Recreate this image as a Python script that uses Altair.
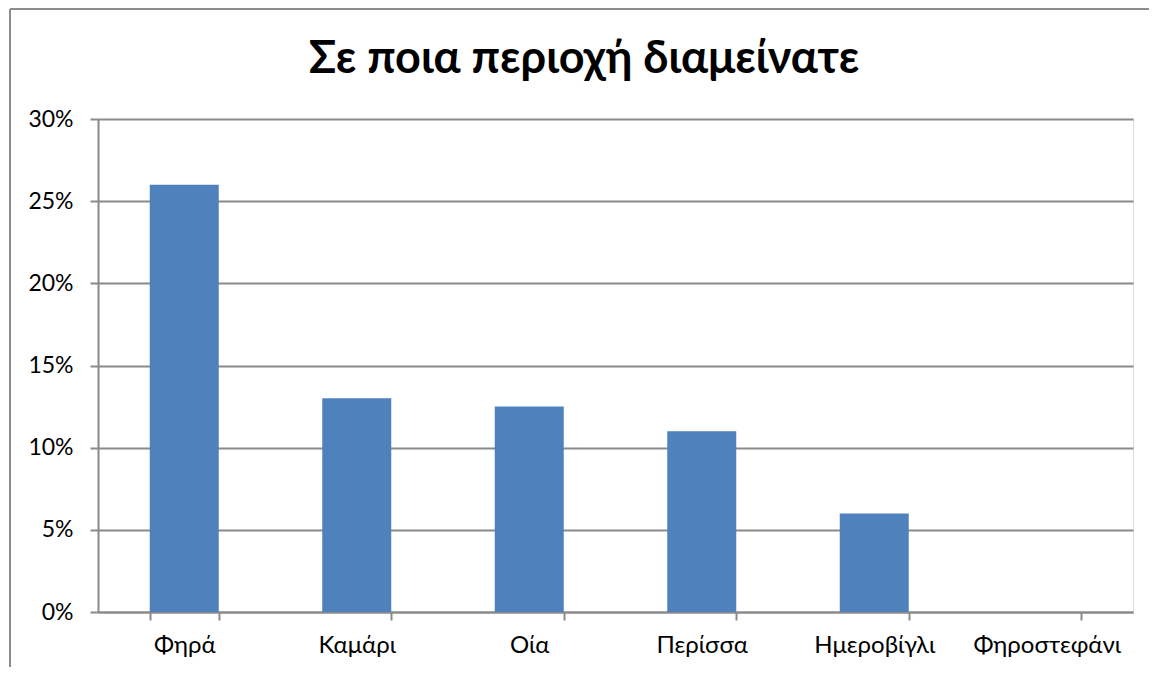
import altair as alt
import pandas as pd

title_text = "Σε ποια περιοχή διαμείνατε"
categories = ["Φηρά", "Καμάρι", "Οία", "Περίσσα", "Ημεροβίγλι", "Φηροστεφάνι"]
values = [0.26, 0.13, 0.125, 0.11, 0.06, 0.0]
y_ticks = [0, 0.05, 0.10, 0.15, 0.20, 0.25, 0.30]

df = pd.DataFrame({"area": categories, "share": values})
title_df = pd.DataFrame({"t": [title_text]})

FONT = "Lato"
GRID = "#8a8a8a"

W, H = 1035, 493

bars = alt.Chart(df).mark_bar(color="#4F81BD").encode(
    x=alt.X(
        "area:N",
        sort=categories,
        title=None,
        scale=alt.Scale(paddingInner=0.6, paddingOuter=0.3),
        axis=alt.Axis(
            labelAngle=0,
            labelFont=FONT,
            labelFontSize=24,
            labelColor="#000000",
            labelPadding=13,
            tickBand="extent",
            tickSize=8,
            tickColor=GRID,
            tickWidth=2,
            domainColor=GRID,
            domainWidth=2,
            grid=False,
        ),
    ),
    y=alt.Y(
        "share:Q",
        title=None,
        scale=alt.Scale(domain=[0, 0.30], nice=False),
        axis=alt.Axis(
            values=y_ticks,
            format=".0%",
            labelFont=FONT,
            labelFontSize=23,
            labelColor="#000000",
            labelPadding=17,
            tickSize=8,
            tickColor=GRID,
            tickWidth=2,
            domainColor=GRID,
            domainWidth=2,
            gridColor=GRID,
            gridWidth=2,
            gridOpacity=1,
        ),
    ),
)

title_mark = alt.Chart(title_df).mark_text(
    font=FONT, fontSize=45, fontWeight="bold", color="#000000",
    align="center", baseline="alphabetic",
).encode(text="t:N", x=alt.value(486), y=alt.value(-46))

top_border = alt.Chart(title_df).mark_rule(color="#8c8c8c", strokeWidth=2).encode(
    x=alt.value(-88), x2=alt.value(1060), y=alt.value(-110)
)
left_border = alt.Chart(title_df).mark_rule(color="#8c8c8c", strokeWidth=2).encode(
    x=alt.value(-88), y=alt.value(-110), y2=alt.value(600)
)

chart = (
    alt.layer(bars, title_mark, top_border, left_border)
    .properties(
        width=W,
        height=H,
        autosize=alt.AutoSizeParams(type="none"),
        padding={"left": 90, "top": 111, "right": 16, "bottom": 55},
    )
    .configure_view(stroke=None)
    .configure(background="white")
)

chart.save("out.html", embed_options={"renderer": "svg", "actions": False})
